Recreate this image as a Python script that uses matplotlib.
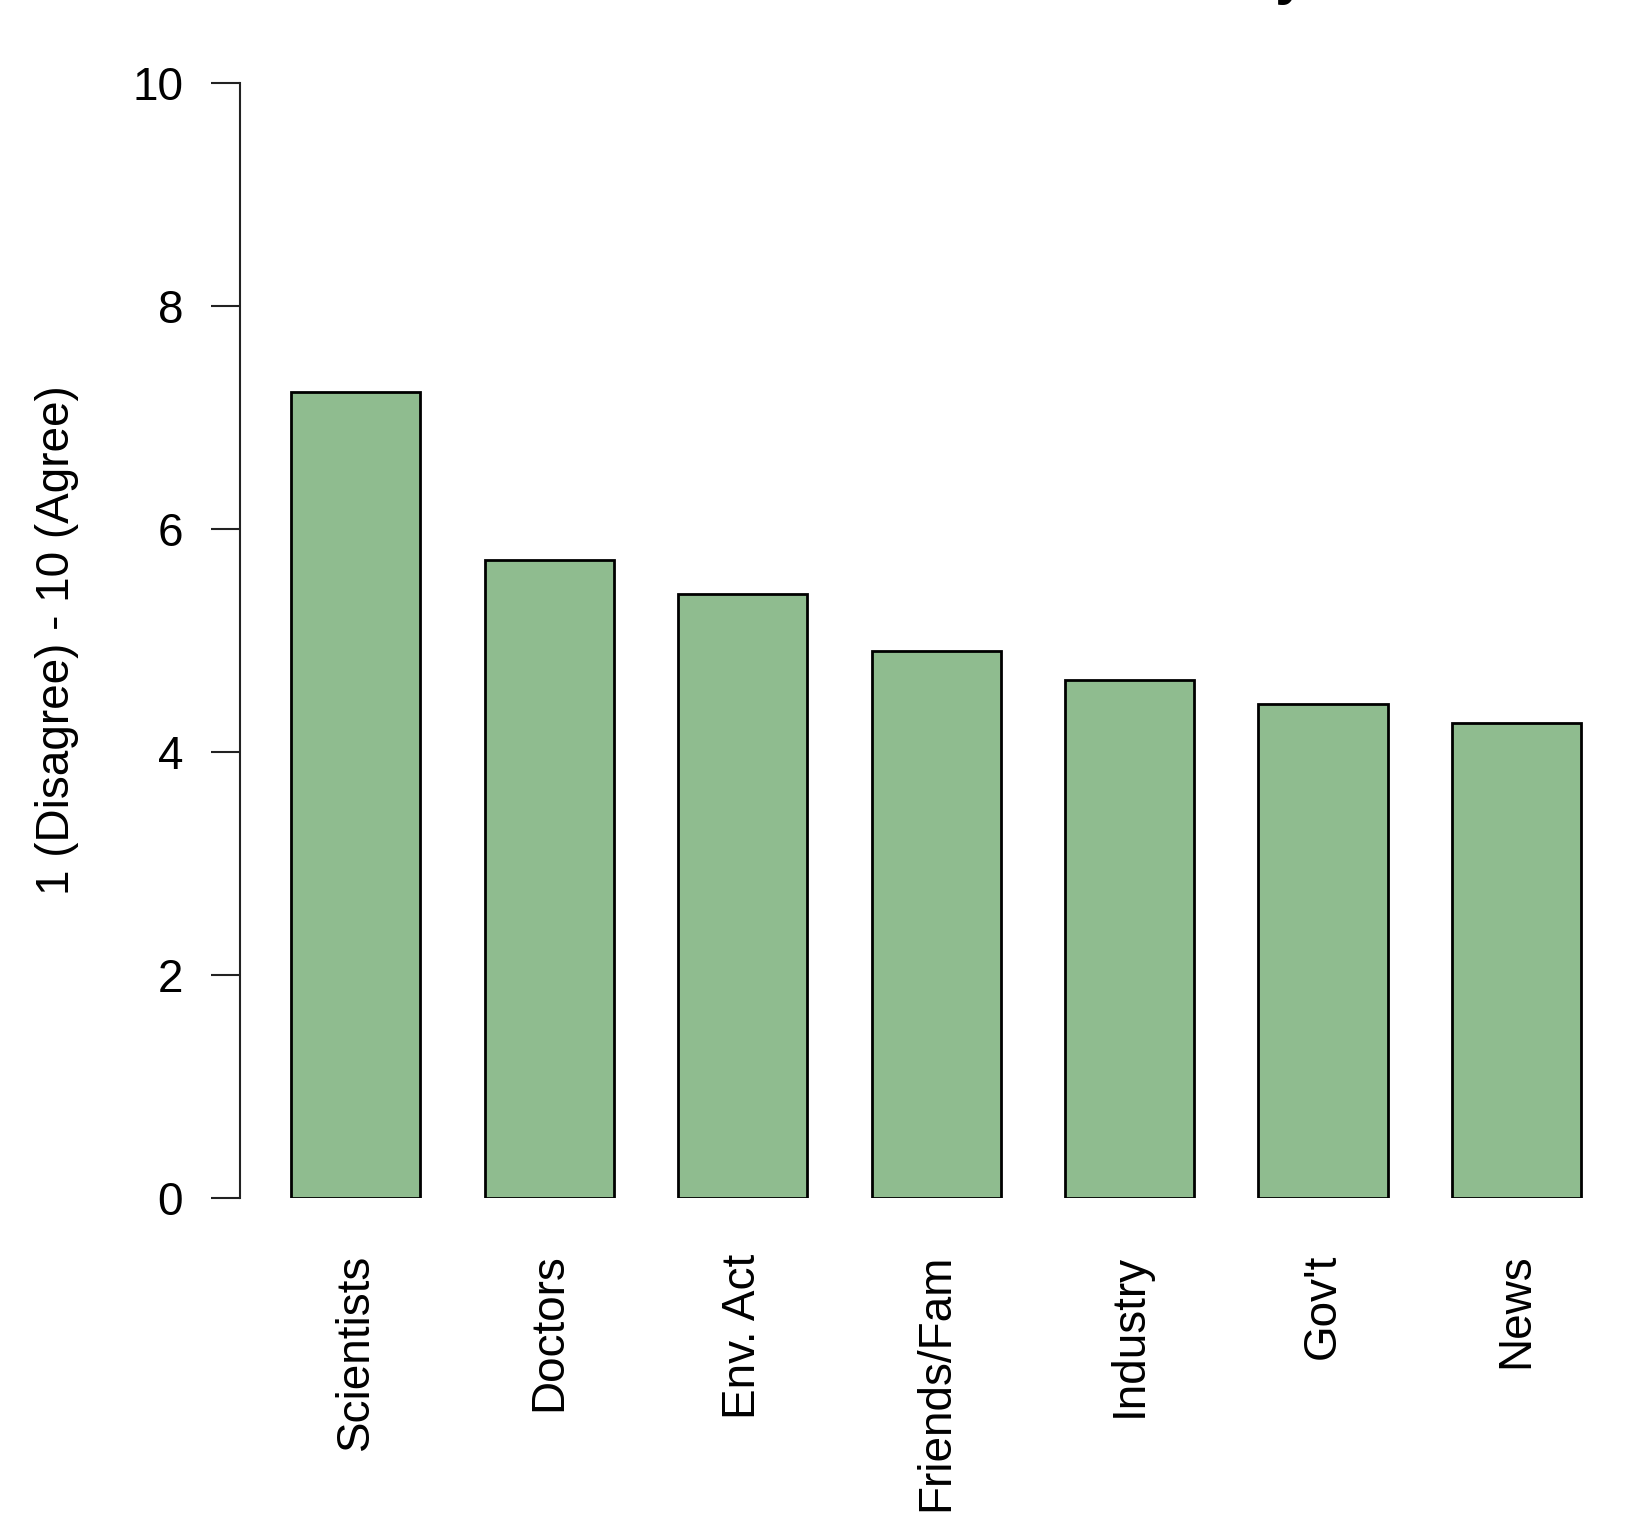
import matplotlib
matplotlib.use("Agg")
import matplotlib.pyplot as plt

# Data
sources = ["Scientists", "Doctors", "Env. Act", "Friends/Fam", "Industry", "Gov't", "News"]
agreement = [7.23, 5.72, 5.42, 4.91, 4.65, 4.43, 4.26]
y_ticks = [0, 2, 4, 6, 8, 10]

plt.rcParams["font.family"] = ["Liberation Sans", "DejaVu Sans"]

W, H = 1631, 1532
fig = plt.figure(figsize=(W / 100, H / 100), dpi=100)

# axes box in pixels: left spine at x=240, y=10 at 83px, y=0 at 1198px
ax = fig.add_axes([240 / W, 1 - 1198 / H, (W - 240) / W, (1198 - 83) / H])

x = list(range(len(sources)))
ax.bar(x, agreement, width=0.667, color="#8fbc8f", edgecolor="black", linewidth=2)

ax.set_xlim(-0.598, 6.592)
ax.set_ylim(0, 10)
ax.set_yticks(y_ticks)
ax.set_yticklabels([str(t) for t in y_ticks])
ax.set_xticks(x)
ax.set_xticklabels(sources, rotation=90, va="top", ha="center")

for side in ["top", "right", "bottom"]:
    ax.spines[side].set_visible(False)
ax.spines["left"].set_linewidth(1.5)
ax.spines["left"].set_color("#222222")

ax.tick_params(axis="y", direction="out", length=21, width=1.5, pad=20,
               labelsize=33, color="#222222")
ax.tick_params(axis="x", length=0, pad=40, labelsize=33)

ax.set_ylabel("1 (Disagree) - 10 (Agree)", fontsize=33, labelpad=38)

# title sits mostly above the canvas; only the descender shows
fig.text(1306 / W, 1 + 7 / H, "Trust in Sources on Climate Policy",
         ha="right", va="baseline", fontsize=40, fontweight="bold")

fig.savefig("out.png", dpi=100)
